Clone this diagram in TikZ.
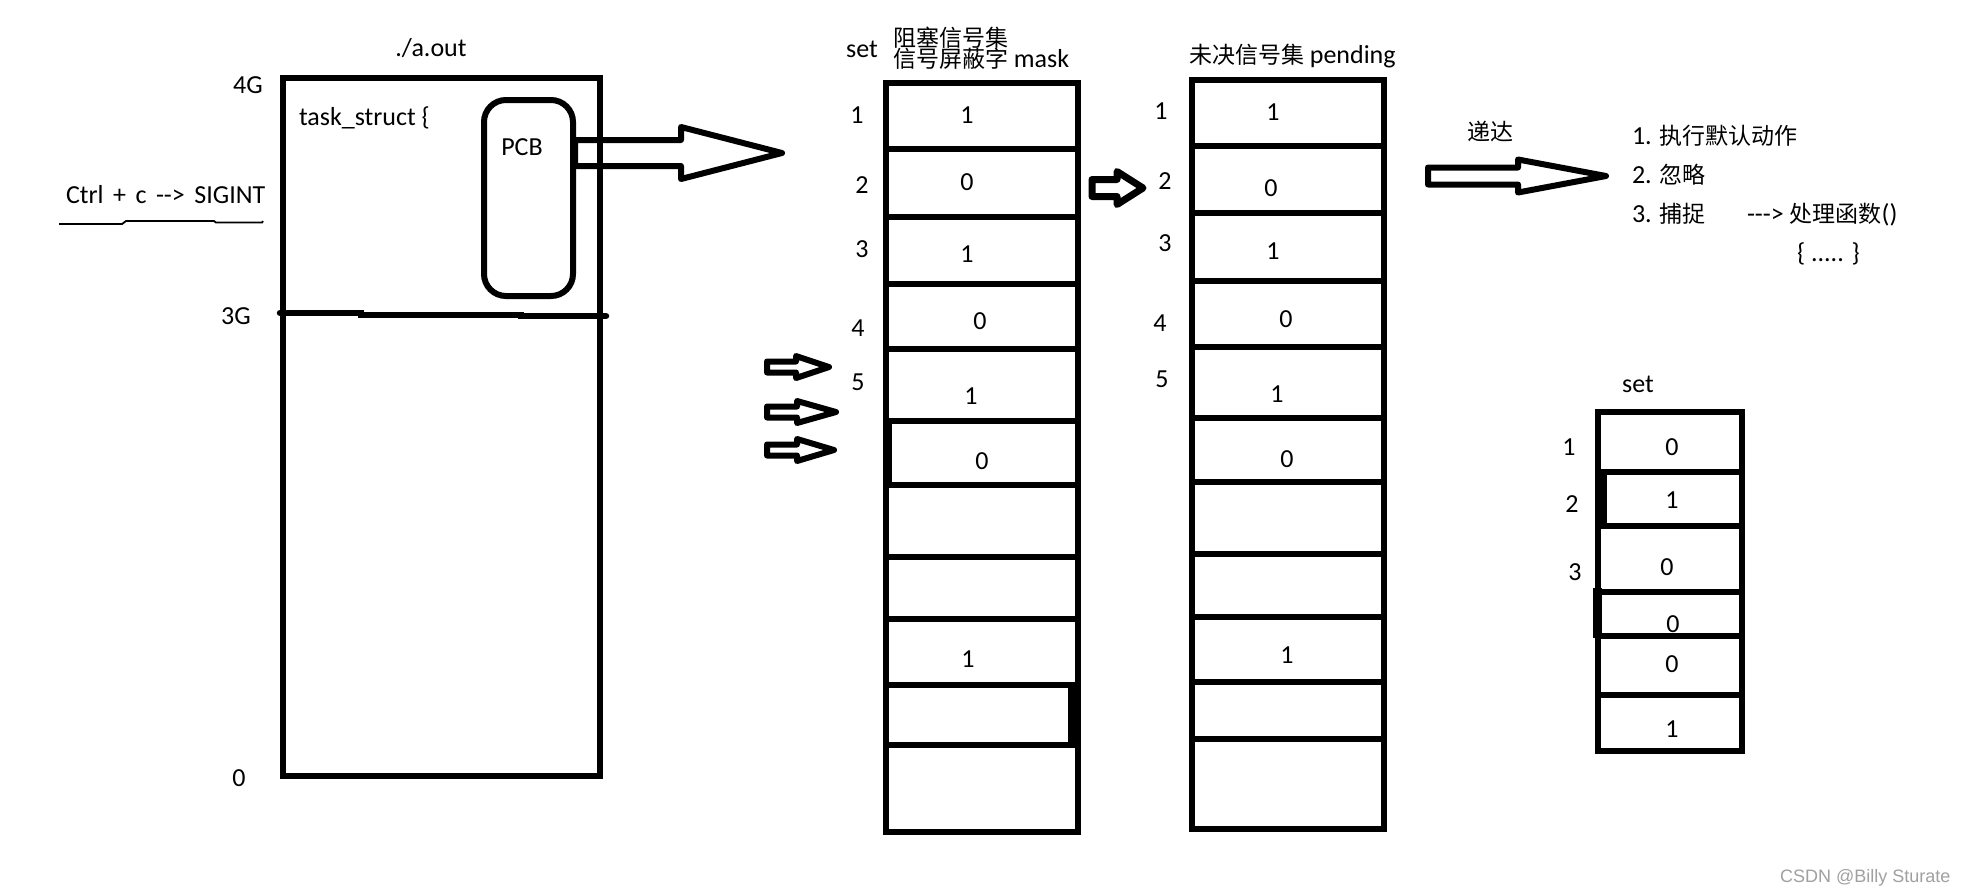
\documentclass[tikz,border=0pt]{standalone}
\usepackage{fontspec}
\setmainfont{Carlito}
\newfontfamily\cjkfont{Noto Sans CJK SC}
\newfontfamily\wmfont{Liberation Sans}
\newcommand\zhtext[1]{{\fontsize{23}{27}\cjkfont #1}}
\newcommand\blockarrow[7]{\draw[#7] (#1,#2-#5) -- (#3,#2-#5) -- (#3,#2-#6) -- (#4,#2) -- (#3,#2+#6) -- (#3,#2+#5) -- (#1,#2+#5) -- cycle;}
\definecolor{wmgray}{RGB}{160,160,160}
\begin{document}
\begin{tikzpicture}[x=1pt,y=-1pt,
  lab/.style={inner sep=0pt, outer sep=0pt, font=\fontsize{26}{30}\selectfont, text=black},
  frame/.style={draw, line width=6.5pt, inner sep=0pt, outer sep=0pt},
  cell/.style={frame},
  blk/.style={draw, line width=6pt, line join=round},
  midblk/.style={draw, line width=7pt, line join=round},
  smallblk/.style={draw, line width=6pt, line join=round},
  uline/.style={draw, line width=1.8pt}
]
\fill[white] (0,0) rectangle (1967,895);
\useasboundingbox (0,0) rectangle (1967,895);

% ---------- process address space ----------
\node[frame, minimum width=317pt, minimum height=698pt] (proc) at (441.5,427) {};
\coordinate (g3a) at (280,313);
\coordinate (g3b) at (606,316);
\draw[line width=6.5pt, line cap=round] (g3a) -- (361,313) -- (361,315) -- (521,315) -- (521,316) -- (g3b);
\node[frame, line width=6pt, rounded corners=22pt, minimum width=89pt, minimum height=196pt] (pcb) at (528.5,198) {};

\node[lab, anchor=base] (aout) at (431,56) {./a.out};
\node[lab, anchor=base] (g4) at (248,93) {4G};
\node[lab, anchor=base west] (ts) at (299,125) {task\_struct \{};
\node[lab, anchor=base] (pcbl) at (522,155) {PCB};
\node[lab, anchor=base west] (ctrl) at (66,203) {\spaceskip=9.5pt Ctrl + c -\kern0pt-\kern0pt> SIGINT};
\draw[uline] (59,224) -- (122,224) -- (126,221) -- (214,221) -- (216,222.5) -- (262,222.5) -- (263,221);
\node[lab, anchor=base] (g3) at (236,324) {3G};
\node[lab, anchor=base] (g0) at (239,786) {0};

% arrow PCB -> mask
\blockarrow{575}{153}{681}{782}{13}{26}{blk}

% ---------- mask column ----------
\foreach \n/\ya/\yb in {1/83/149,2/149/217,3/217/284,4/284/349,5/349/421,6/421/485,7/485/557,8/557/619,9/619/685,10/685/745,11/745/832}{
  \pgfmathsetmacro\hh{\yb-\ya}
  \pgfmathsetmacro\cy{(\ya+\yb)/2}
  \node[cell, minimum width=192pt, minimum height=\hh pt] (m\n) at (982,\cy) {};
}
\fill (886,421) rectangle (892,485);
\fill (1068,685) rectangle (1075,745);
\node[lab, anchor=base] (mset) at (862,57) {set};
\node[lab, anchor=base west] (mh1) at (893,46) {\zhtext{阻塞信号集}};
\node[lab, anchor=base west] (mh2) at (893,67) {\zhtext{信号屏蔽字} mask};
\node[lab, anchor=base] (ml1) at (857,123) {1};
\node[lab, anchor=base] (ml2) at (862,193) {2};
\node[lab, anchor=base] (ml3) at (862,257) {3};
\node[lab, anchor=base] (ml4) at (858,336) {4};
\node[lab, anchor=base] (ml5) at (858,390) {5};
\node[lab, anchor=base] (mv1) at (967,123) {1};
\node[lab, anchor=base] (mv2) at (967,190) {0};
\node[lab, anchor=base] (mv3) at (967,262) {1};
\node[lab, anchor=base] (mv4) at (980,329) {0};
\node[lab, anchor=base] (mv5) at (971,404) {1};
\node[lab, anchor=base] (mv6) at (982,469) {0};
\node[lab, anchor=base] (mv9) at (968,667) {1};

% three incoming signal arrows
\blockarrow{767}{367}{796}{829}{5.5}{11}{smallblk}
\blockarrow{767}{412}{797}{836}{5.5}{11}{smallblk}
\blockarrow{767}{450}{797}{834}{5.5}{11}{smallblk}

% arrow mask -> pending
\blockarrow{1092}{188}{1117}{1143}{8.5}{16.5}{midblk}

% ---------- pending column ----------
\foreach \n/\ya/\yb in {1/80/146,2/146/213,3/213/281,4/281/347,5/347/418,6/418/482,7/482/554,8/554/617,9/617/682,10/682/739,11/739/829}{
  \pgfmathsetmacro\hh{\yb-\ya}
  \pgfmathsetmacro\cy{(\ya+\yb)/2}
  \node[cell, minimum width=192pt, minimum height=\hh pt] (p\n) at (1288,\cy) {};
}
\node[lab, anchor=base west] (ph) at (1189,63) {\zhtext{未决信号集} pending};
\node[lab, anchor=base] (pl1) at (1161,119) {1};
\node[lab, anchor=base] (pl2) at (1165,189) {2};
\node[lab, anchor=base] (pl3) at (1165,251) {3};
\node[lab, anchor=base] (pl4) at (1160,331) {4};
\node[lab, anchor=base] (pl5) at (1162,387) {5};
\node[lab, anchor=base] (pv1) at (1273,120) {1};
\node[lab, anchor=base] (pv2) at (1271,196) {0};
\node[lab, anchor=base] (pv3) at (1273,259) {1};
\node[lab, anchor=base] (pv4) at (1286,327) {0};
\node[lab, anchor=base] (pv5) at (1277,402) {1};
\node[lab, anchor=base] (pv6) at (1287,467) {0};
\node[lab, anchor=base] (pv9) at (1287,663) {1};

% delivery arrow
\node[lab, anchor=base] (dd) at (1490,140) {\zhtext{递达}};
\blockarrow{1428}{176}{1518}{1606}{8.5}{16.5}{blk}

% actions
\node[lab, anchor=base west] (a1) at (1632,144) {1. \zhtext{执行默认动作}};
\node[lab, anchor=base west] (a2) at (1632,183) {2. \zhtext{忽略}};
\node[lab, anchor=base west] (a3) at (1632,222) {3. \zhtext{捕捉}};
\node[lab, anchor=base west] (a4) at (1747,222) {-\kern0pt-\kern0pt-\kern0pt> \zhtext{处理函数}()};
\node[lab, anchor=base west] (a5) at (1797,261) {\{ ..... \}};

% ---------- small set ----------
\foreach \n/\ya/\yb in {1/412/472,2/472/526,3/526/592,4/592/636,5/636/695,6/695/751}{
  \pgfmathsetmacro\hh{\yb-\ya}
  \pgfmathsetmacro\cy{(\ya+\yb)/2}
  \node[cell, minimum width=144pt, minimum height=\hh pt] (s\n) at (1670,\cy) {};
}
\fill (1595,472) rectangle (1607,526);
\fill (1593,588) rectangle (1602,638);
\node[lab, anchor=base] (sset) at (1638,392) {set};
\node[lab, anchor=base] (sl1) at (1569,455) {1};
\node[lab, anchor=base] (sl2) at (1572,512) {2};
\node[lab, anchor=base] (sl3) at (1575,580) {3};
\node[lab, anchor=base] (sv1) at (1672,455) {0};
\node[lab, anchor=base] (sv2) at (1672,508) {1};
\node[lab, anchor=base] (sv3) at (1667,575) {0};
\node[lab, anchor=base] (sv4) at (1673,632) {0};
\node[lab, anchor=base] (sv5) at (1672,672) {0};
\node[lab, anchor=base] (sv6) at (1672,737) {1};

% watermark
\node[anchor=base west, inner sep=0pt, font=\wmfont\fontsize{18}{20}\selectfont, text=wmgray] (wm) at (1780,882) {CSDN @Billy Sturate};
\end{tikzpicture}
\end{document}
